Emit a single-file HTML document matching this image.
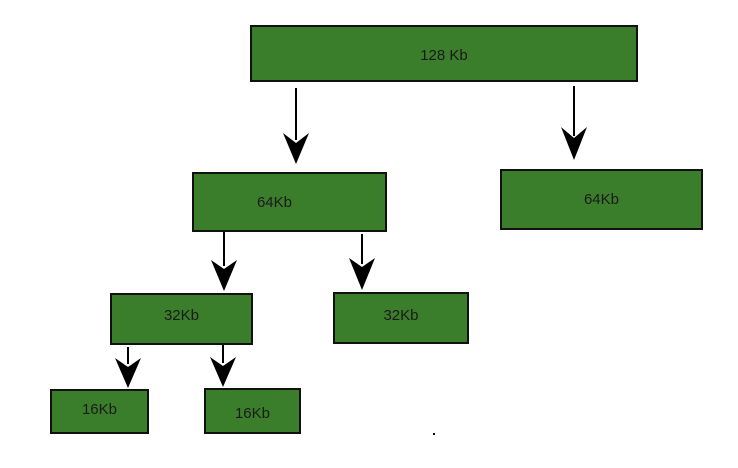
<!DOCTYPE html>
<html><head><style>
body{margin:0;width:738px;height:468px;background:#fff;position:relative;overflow:hidden;font-family:"Liberation Sans",sans-serif}
.b{position:absolute;background:#3a7e2b;border:2px solid #111;box-sizing:border-box;display:flex;align-items:center;justify-content:center;font-size:15px;color:#1a1a1a}
</style></head><body>
<div class="b" style="left:250px;top:25px;width:388px;height:57px;padding-top:4px">128 Kb</div>
<div class="b" style="left:192px;top:172px;width:195px;height:60px;padding-right:30px">64Kb</div>
<div class="b" style="left:500px;top:169px;width:203px;height:61px;padding-top:0">64Kb</div>
<div class="b" style="left:110px;top:293px;width:143px;height:52px;padding-bottom:8px">32Kb</div>
<div class="b" style="left:333px;top:292px;width:136px;height:52px;padding-bottom:6px">32Kb</div>
<div class="b" style="left:50px;top:389px;width:99px;height:45px;padding-bottom:4px">16Kb</div>
<div class="b" style="left:204px;top:388px;width:97px;height:46px;padding-top:4px">16Kb</div>
<svg width="738" height="468" style="position:absolute;left:0;top:0">
<g stroke="#000" stroke-width="2">
<line x1="296" y1="88" x2="296" y2="140"/>
<line x1="574" y1="86" x2="574" y2="136"/>
<line x1="224" y1="232" x2="224" y2="266"/>
<line x1="362" y1="234" x2="362" y2="264"/>
<line x1="128" y1="347" x2="128" y2="364"/>
<line x1="223" y1="345" x2="223" y2="363"/>
</g>
<g fill="#000">
<polygon points="283,133 296,164 309,133 296,143"/>
<polygon points="561,127 574,160 587,127 574,138"/>
<polygon points="211,260 224,291 237,260 224,269"/>
<polygon points="349,258 362,290 375,258 362,267"/>
<polygon points="115,358 128,388 141,358 128,367"/>
<polygon points="210,357 223,387 236,357 223,366"/>
<rect x="433" y="433" width="2" height="2"/>
</g>
</svg>
</body></html>
